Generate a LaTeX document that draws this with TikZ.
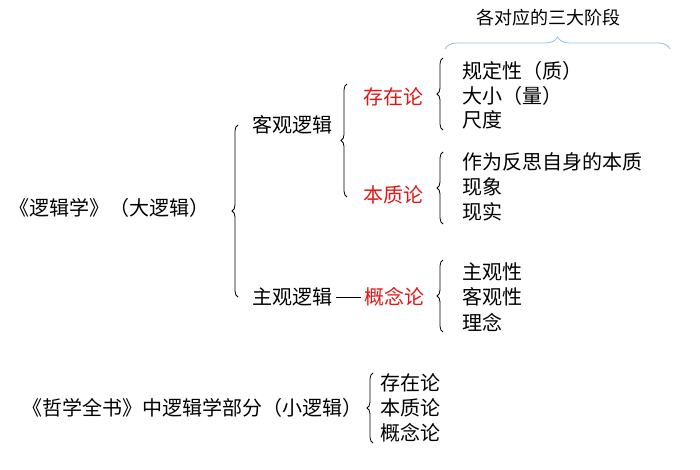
\documentclass[tikz,border=0pt]{standalone}
\usepackage{fontspec}
\setmainfont{Noto Sans CJK SC}
\usetikzlibrary{positioning, decorations.pathreplacing}
\begin{document}
\begin{tikzpicture}[x=1pt, y=-1pt,
    txt/.style={inner sep=0pt, anchor=west, font=\fontsize{20}{24}\selectfont},
    red txt/.style={txt, text={rgb,255:red,230;green,20;blue,20}},
    br/.style={decoration={brace, amplitude=6pt}, decorate, line width=0.8pt},
    ]
    \useasboundingbox (0,0) rectangle (700,470);
    % Root
    \node[txt] (root) at (9,208) {《逻辑学》（大逻辑）};
    \draw[br] (238,297) -- (238,125);
    % Objective / subjective
    \node[txt] (obj) at (252,125) {客观逻辑};
    \node[txt] (subj) at (252,297) {主观逻辑};
    \draw[br] (347,197) -- (347,84);
    % Doctrines
    \node[red txt] (sein) at (363,97) {存在论};
    \node[red txt] (wesen) at (363,195) {本质论};
    \node[red txt] (begriff) at (364,297) {概念论};
    \draw[line width=0.8pt] ([xshift=4pt]subj.east) -- ([xshift=-3pt]begriff.west);
    % Stages
    \draw[br] (443,130) -- (443,58);
    \node[txt] (s1) at (462,71) {规定性（质）};
    \node[txt] (s2) at (462,96) {大小（量）};
    \node[txt] (s3) at (462,120) {尺度};
    \draw[br] (443,224) -- (443,152);
    \node[txt] (w1) at (462,162) {作为反思自身的本质};
    \node[txt] (w2) at (462,187) {现象};
    \node[txt] (w3) at (462,212) {现实};
    \draw[br] (443,332) -- (443,260);
    \node[txt] (b1) at (462,272) {主观性};
    \node[txt] (b2) at (462,297) {客观性};
    \node[txt] (b3) at (462,322) {理念};
    % Top brace
    \draw[br, decoration={amplitude=12pt}, draw={rgb,255:red,150;green,190;blue,225}] (445,49) -- (670,49);
    \node[txt, font=\fontsize{18}{22}\selectfont] (stage) at (476,18) {各对应的三大阶段};
    % Small logic
    \node[txt] (enc) at (22,408) {《哲学全书》中逻辑学部分（小逻辑）};
    \draw[br] (373,443) -- (373,373);
    \node[txt] (e1) at (380,383) {存在论};
    \node[txt] (e2) at (380,408) {本质论};
    \node[txt] (e3) at (380,433) {概念论};
\end{tikzpicture}
\end{document}
